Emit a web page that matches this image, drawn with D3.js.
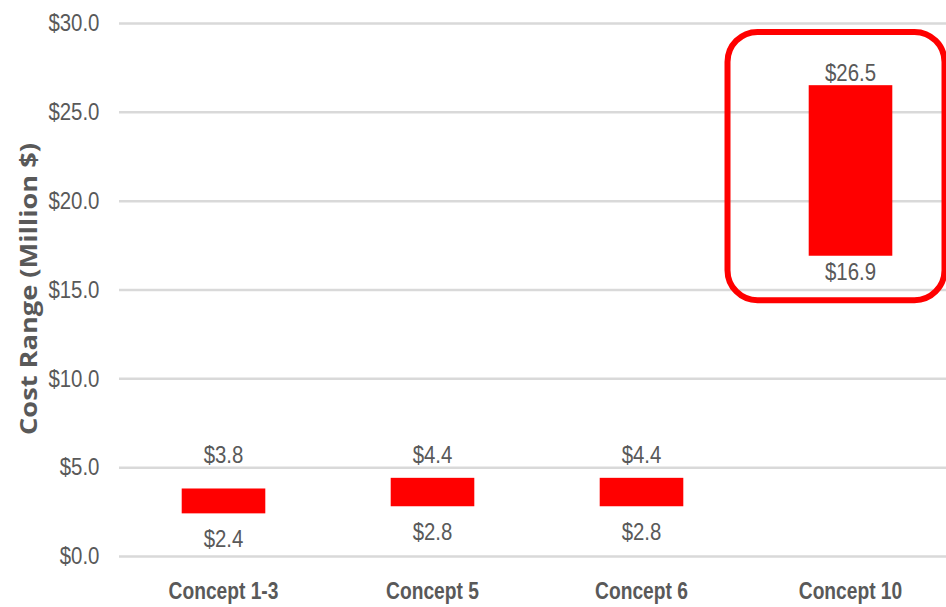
<!DOCTYPE html>
<html>
<head>
<meta charset="utf-8">
<script src="https://cdn.jsdelivr.net/npm/d3@7"></script>
<style>
  html, body { margin: 0; padding: 0; background: #fff; overflow: hidden; }
  .tick-label { font-family: "Liberation Sans", sans-serif; font-size: 24px; fill: #595959; }
  .cat-label { font-family: "Liberation Sans", sans-serif; font-weight: bold; font-size: 24px; fill: #595959; }
  .val-label { font-family: "Liberation Sans", sans-serif; font-size: 24px; fill: #595959; }
  .axis-title { font-family: "Open Sans", "Liberation Sans", sans-serif; font-weight: bold; font-size: 23px; fill: #595959; }
</style>
</head>
<body>
<div id="chart"></div>
<script>
const categories = ['Concept 1-3', 'Concept 5', 'Concept 6', 'Concept 10'];
const lowValues = [2.4, 2.8, 2.8, 16.9];
const highValues = [3.8, 4.4, 4.4, 26.5];
const yTicks = [0, 5, 10, 15, 20, 25, 30];
const highlighted = 'Concept 10';

const width = 946, height = 607;
const margin = {top: 23, right: -9, bottom: 51, left: 119};
const innerW = width - margin.left - margin.right;
const innerH = height - margin.top - margin.bottom;

const svg = d3.select('#chart').append('svg')
  .attr('width', width)
  .attr('height', height);

const g = svg.append('g')
  .attr('transform', 'translate(' + margin.left + ',' + margin.top + ')');

const x = d3.scaleBand().domain(categories).range([0, innerW])
  .paddingInner(0.6).paddingOuter(0.3);
const y = d3.scaleLinear().domain([0, 30]).range([innerH, 0]);

const fmt = v => '$' + d3.format('.1f')(v);

// gridlines + y tick labels (text squeezed to look like a narrow face)
const yAxis = g.append('g')
  .call(d3.axisLeft(y).tickValues(yTicks).tickSize(-innerW).tickFormat(fmt).tickPadding(23));
yAxis.select('.domain').remove();
yAxis.selectAll('.tick line').attr('stroke', '#d9d9d9').attr('stroke-width', 2.5);
yAxis.selectAll('.tick text').attr('class', 'tick-label').attr('fill', null)
  .attr('transform', 'scale(0.85,1)');

// category labels
const xAxis = g.append('g')
  .attr('transform', 'translate(0,' + innerH + ')')
  .call(d3.axisBottom(x).tickSize(0).tickPadding(26));
xAxis.select('.domain').remove();
xAxis.selectAll('.tick text').attr('class', 'cat-label').attr('fill', null)
  .attr('transform', 'scale(0.8,1)');

svg.append('text')
  .attr('class', 'axis-title')
  .attr('transform', 'translate(37,289) rotate(-90)')
  .attr('text-anchor', 'middle')
  .attr('textLength', 292)
  .attr('lengthAdjust', 'spacingAndGlyphs')
  .text('Cost Range (Million $)');

const data = categories.map((c, i) => ({cat: c, lo: lowValues[i], hi: highValues[i]}));

g.selectAll('.bar')
  .data(data)
  .enter().append('rect')
  .attr('class', 'bar')
  .attr('x', d => x(d.cat))
  .attr('width', x.bandwidth())
  .attr('y', d => y(d.hi))
  .attr('height', d => y(d.lo) - y(d.hi))
  .attr('fill', '#ff0000');

// labels of short bars sit above the $5 gridline
g.selectAll('.hi-label')
  .data(data)
  .enter().append('text')
  .attr('class', 'val-label')
  .attr('transform', d => 'translate(' + (x(d.cat) + x.bandwidth() / 2) + ','
    + Math.min(y(d.hi) - 13, y(5.7)) + ') scale(0.85,1)')
  .attr('dy', '0.35em')
  .attr('text-anchor', 'middle')
  .text(d => fmt(d.hi));

g.selectAll('.lo-label')
  .data(data)
  .enter().append('text')
  .attr('class', 'val-label')
  .attr('transform', d => 'translate(' + (x(d.cat) + x.bandwidth() / 2) + ','
    + (y(d.lo) + (d.lo > 10 ? 16 : 25)) + ') scale(0.85,1)')
  .attr('dy', '0.35em')
  .attr('text-anchor', 'middle')
  .text(d => fmt(d.lo));

// highlight box around Concept 10
const hx = x(highlighted) + x.bandwidth() / 2;
g.append('rect')
  .attr('x', hx - 123)
  .attr('y', y(29.5))
  .attr('width', 217)
  .attr('height', y(14.4) - y(29.5))
  .attr('rx', 30)
  .attr('fill', 'none')
  .attr('stroke', '#ff0000')
  .attr('stroke-width', 6);
</script>
</body>
</html>
